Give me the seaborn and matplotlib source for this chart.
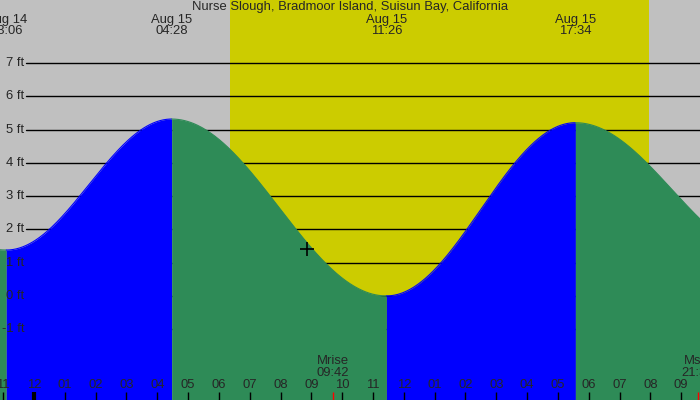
import numpy as np
import pandas as pd
import matplotlib
matplotlib.use('Agg')
import matplotlib.pyplot as plt
import seaborn as sns

# tide extremes (first and last are just outside the visible window)
tide_times = ['2024-08-14 16:50', '2024-08-14 23:06', '2024-08-15 04:28',
              '2024-08-15 11:26', '2024-08-15 17:34', '2024-08-15 23:50']
tide_ft = [4.9, 1.38, 5.32, 0.0, 5.21, 1.19]
label_day = ['Aug 14', 'Aug 14', 'Aug 15', 'Aug 15', 'Aug 15', 'Aug 16']
label_clock = ['16:50', '23:06', '04:28', '11:26', '17:34', '23:50']

sun_times = ['2024-08-15 06:22', '2024-08-15 19:57']
moon_events = ['Mrise', 'Mset']
moon_times = ['2024-08-15 09:42', '2024-08-15 21:32']
moon_clock = ['09:42', '21:32']
now_time = '2024-08-15 08:52'
now_ft = 1.4

ft_ticks = [-1, 0, 1, 2, 3, 4, 5, 6, 7]
hour_ticks = list(range(-1, 22))
hour_labels = ['11', '12', '01', '02', '03', '04', '05', '06', '07', '08', '09', '10',
               '11', '12', '01', '02', '03', '04', '05', '06', '07', '08', '09']

title = 'Nurse Slough, Bradmoor Island, Suisun Bay, California'

BG = '#c0c0c0'
DAY = '#cccc00'
RISE = '#0000ff'
FALL = '#2e8b57'
FS = 9.4

base = pd.Timestamp('2024-08-15 00:00')


def to_hours(t):
    return (pd.to_datetime(t) - base) / pd.Timedelta(hours=1)


ext_h = np.array([to_hours(t) for t in tide_times])
sun_h = [to_hours(t) for t in sun_times]
moon_h = [to_hours(t) for t in moon_times]

sns.set_style('white')
plt.rcParams['font.family'] = ['Liberation Sans', 'DejaVu Sans']

fig = plt.figure(figsize=(7, 4), dpi=100)
ax = fig.add_axes([0, 0, 1, 1])
ax.set_facecolor(BG)
x_lo, x_hi = -34 / 30.82, 666 / 30.82
y_lo, y_hi = -3.13, 8.9
ax.set_xlim(x_lo, x_hi)
ax.set_ylim(y_lo, y_hi)
ax.axvspan(sun_h[0], sun_h[1], color=DAY, zorder=0, lw=0)

# grid lines
for f in ft_ticks:
    ax.axhline(f, xmin=26 / 700, xmax=1, color='black', lw=1, zorder=1)

# tide curve: cosine between each pair of extremes
for i in range(len(ext_h) - 1):
    h0, h1 = ext_h[i], ext_h[i + 1]
    v0, v1 = tide_ft[i], tide_ft[i + 1]
    tt = np.linspace(h0, h1, 200)
    yy = v0 + (v1 - v0) * (1 - np.cos(np.pi * (tt - h0) / (h1 - h0))) / 2
    col = RISE if v1 > v0 else FALL
    ax.fill_between(tt, y_lo, yy, color=col, lw=0, zorder=2)
    seg = pd.DataFrame({'h': tt, 'ft': yy})
    sns.lineplot(data=seg, x='h', y='ft', color=col, lw=0.8, ax=ax, zorder=2)

# current time marker
sns.scatterplot(x=[to_hours(now_time)], y=[now_ft], marker='+', color='black',
                s=110, linewidth=1.2, ax=ax, zorder=5)

# y labels
for f in ft_ticks:
    ax.text(x_lo + 24 / 30.82, f, f'{f} ft', ha='right', va='center', fontsize=FS, zorder=6)

# hour ticks along the bottom
px_ft = (y_hi - y_lo) / 400
for h, lab in zip(hour_ticks, hour_labels):
    lw = 3 if h == 0 else 1
    ax.vlines(h, y_lo, y_lo + 8 * px_ft, color='black', lw=lw, zorder=6)
    ax.text(h, y_lo + 15 * px_ft, lab, ha='center', va='center', fontsize=FS, zorder=6)

for name, h, clk in zip(moon_events, moon_h, moon_clock):
    ax.vlines(h, y_lo, y_lo + 8 * px_ft, color='red', lw=1, zorder=7)
    ax.text(h, y_lo + 39 * px_ft, name, ha='center', va='center', fontsize=FS, zorder=6)
    ax.text(h, y_lo + 27 * px_ft, clk, ha='center', va='center', fontsize=FS, zorder=6)

# extreme labels on top
for h, d, c in zip(ext_h, label_day, label_clock):
    if x_lo - 1 < h < x_hi + 1:
        ax.text(h, y_hi - 20 * px_ft, d, ha='center', va='center', fontsize=FS, zorder=6)
        ax.text(h, y_hi - 31 * px_ft, c, ha='center', va='center', fontsize=FS, zorder=6)

ax.text((x_lo + x_hi) / 2, y_hi - 7 * px_ft, title, ha='center', va='center', fontsize=FS, zorder=6)

ax.set_xlabel('')
ax.set_ylabel('')
ax.set_xticks([])
ax.set_yticks([])
for s in ax.spines.values():
    s.set_visible(False)

fig.savefig('out.png', dpi=100)
